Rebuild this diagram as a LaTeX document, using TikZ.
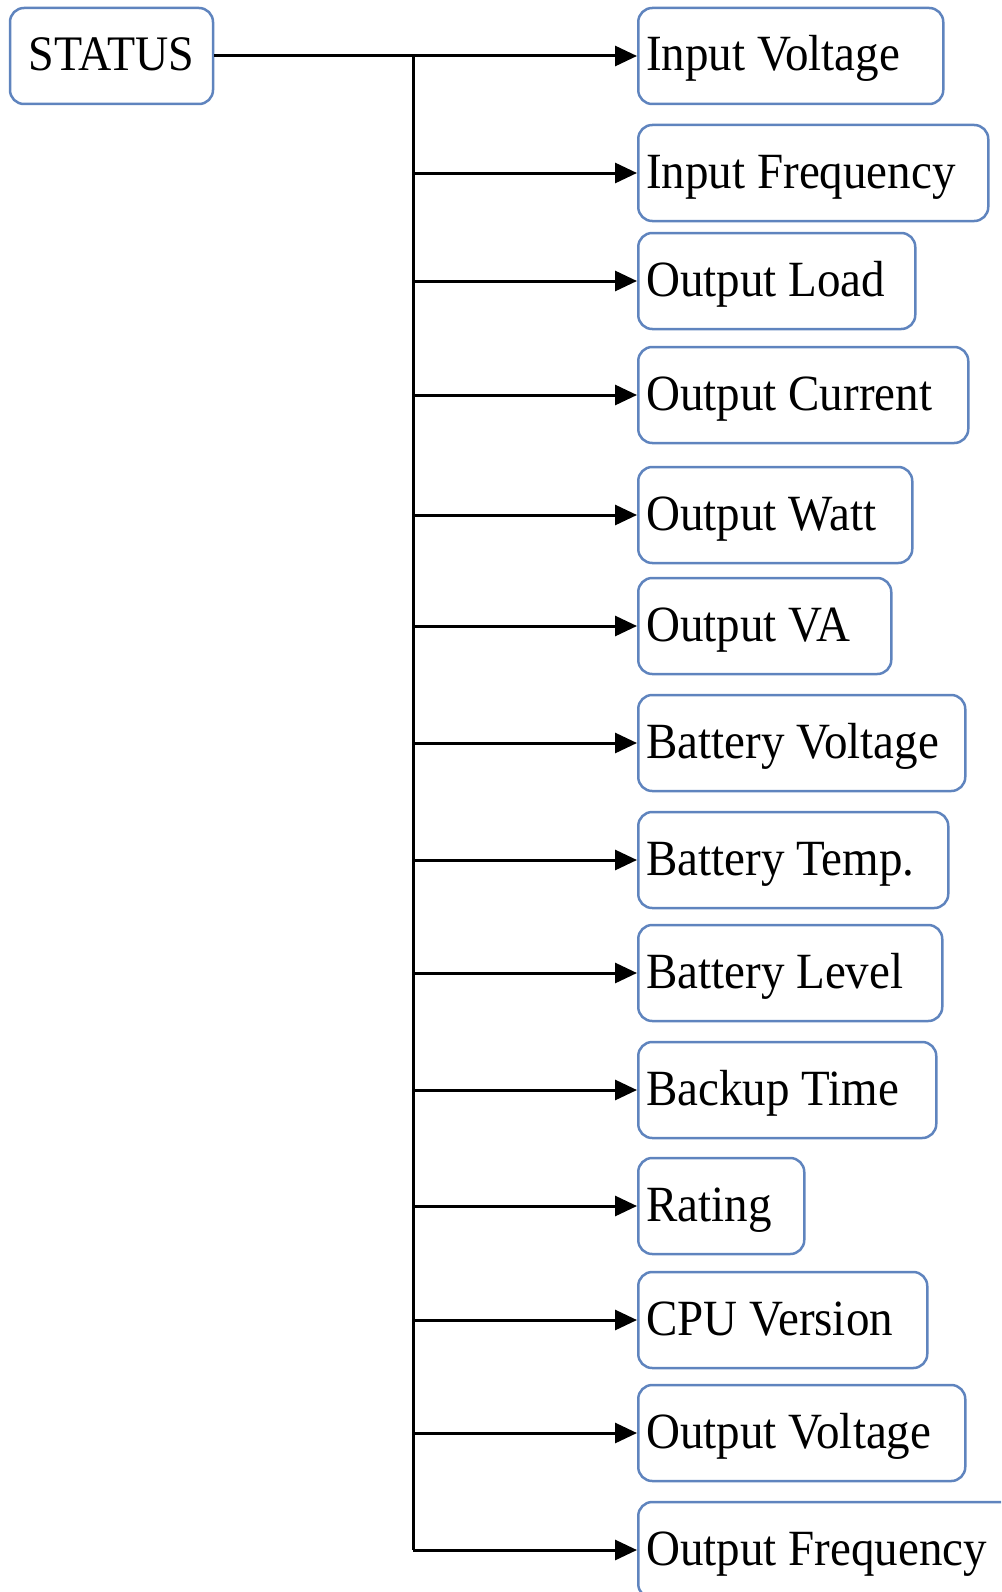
\documentclass[tikz,border=0pt]{standalone}
\usepackage{fontspec}
\setmainfont{Liberation Serif}
\usetikzlibrary{arrows.meta}
\definecolor{boxblue}{HTML}{5F84BE}
\begin{document}
\begin{tikzpicture}[x=1pt,y=-1pt,
        box/.style={draw=boxblue,line width=2.5pt,rounded corners=14pt,minimum height=96pt,
            inner xsep=8pt,inner ysep=0pt,text height=34pt,text depth=4pt,
            font=\fontsize{47}{50}\selectfont},
        link/.style={line width=3pt,-{Triangle[length=22pt,width=20pt]}}]
        \clip (0,0) rectangle (1001,1592);
        \pgfmathsetmacro\trunkx{413}
        \pgfmathsetmacro\boxx{637}
        \node[box,minimum width=203pt,font=\fontsize{46}{50}\selectfont] (status) at (111.5,56) {\scalebox{1}[1.08]{STATUS}};
        \foreach \n/\t/\c/\r in {involt/Input Voltage/56/942, infreq/Input Frequency/173/987,
            outload/Output Load/281/914, outcur/Output Current/395/967, outwatt/Output Watt/515/911,
            outva/Output VA/626/890, batvolt/Battery Voltage/743/964, battemp/Battery Temp./860/947,
            batlevel/Battery Level/973/941, backup/Backup Time/1090/935, rating/Rating/1206/803,
            cpu/CPU Version/1320/926, outvolt/Output Voltage/1433/964, outfreq/Output Frequency/1550/1020} {
            \pgfmathsetmacro\w{\r-\boxx-16}
            \node[box,anchor=west] (\n) at (\boxx,\c) {\scalebox{1}[1.08]{\makebox[\w pt][l]{\t}}};
        }
        \coordinate (trunktop) at (\trunkx,56);
        \draw[line width=3pt] (status) -- (trunktop) -- (trunktop |- outfreq.west);
        \draw[link] (trunktop) -- (involt);
        \foreach \n in {infreq,outload,outcur,outwatt,outva,batvolt,battemp,batlevel,backup,rating,cpu,outvolt,outfreq}
            \draw[link] (trunktop |- \n.west) -- (\n.west);
\end{tikzpicture}
\end{document}
